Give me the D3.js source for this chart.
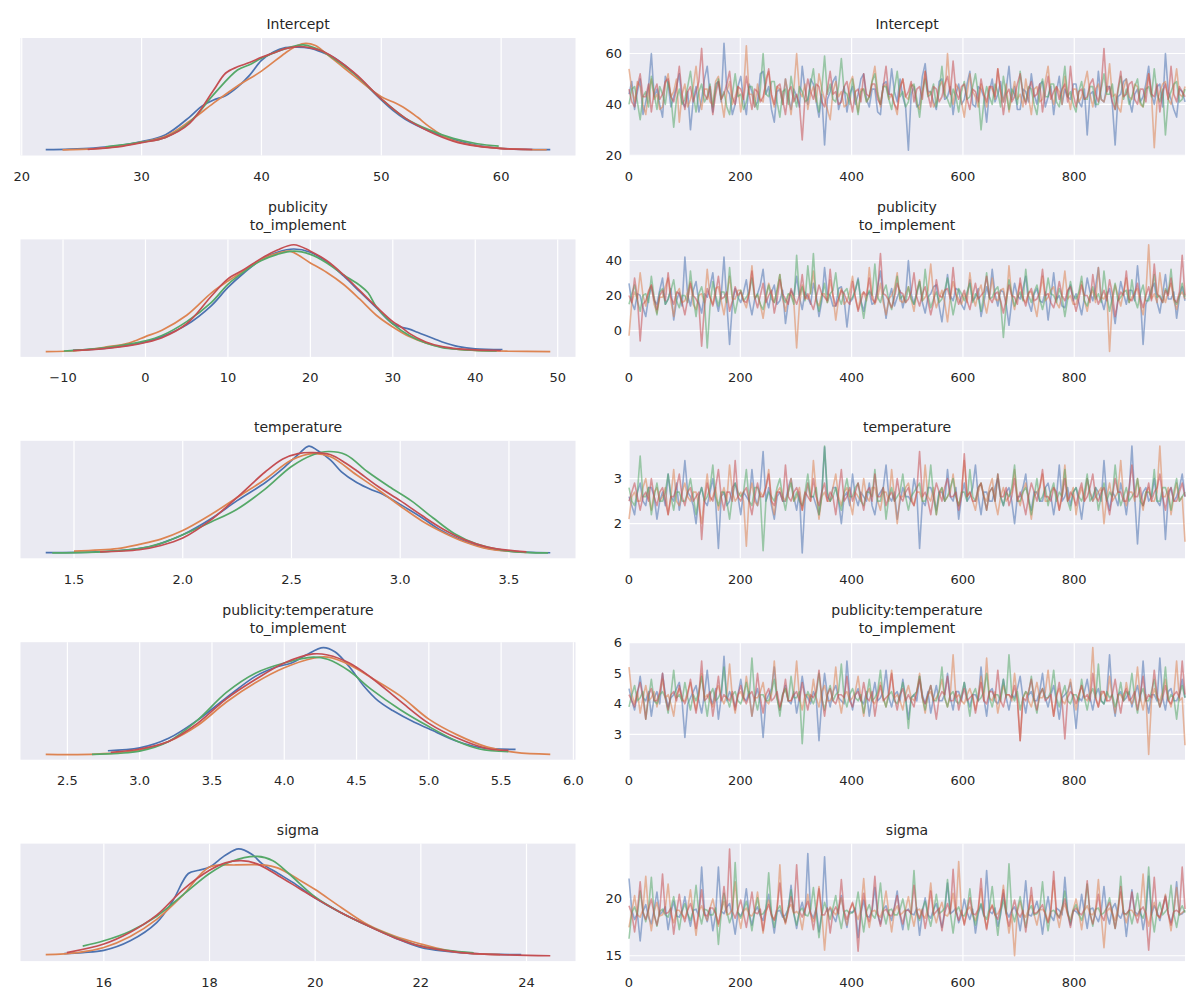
<!DOCTYPE html>
<html>
<head>
<meta charset="utf-8">
<script src="https://cdn.jsdelivr.net/npm/d3@7"></script>
<style>
body { margin: 0; background: #fff; }
text { font-family: "DejaVu Sans", sans-serif; fill: #262626; }
</style>
</head>
<body>
<svg id="chart" width="1200" height="997"></svg>
<script>
// chain colours (seaborn deep)
const chainColors = ["#4c72b0", "#dd8452", "#55a868", "#c44e52"];
const titles = ["Intercept", "publicity\nto_implement", "temperature", "publicity:temperature\nto_implement", "sigma"];
const kdeTickValues = [[20, 30, 40, 50, 60], [-10, 0, 10, 20, 30, 40, 50], [1.5, 2.0, 2.5, 3.0, 3.5], [2.5, 3.0, 3.5, 4.0, 4.5, 5.0, 5.5, 6.0], [16, 18, 20, 22, 24]];
const kdeTickFormat = ["d", "d", ".1f", ".1f", "d"];
const traceYTicks = [[20, 40, 60], [0, 20, 40], [2, 3], [3, 4, 5, 6], [15, 20]];
const drawTicks = [0, 200, 400, 600, 800];
const nDraws = 1000;

// density curves, [value, relative density] per chain (blue, orange, green, red)
const interceptKde = [
  [[22.0,0.005],[24,0.01],[26,0.02],[28,0.04],[30,0.08],[32,0.145],[34,0.31],[35,0.41],[36,0.47],[37,0.51],[38,0.59],[39,0.7],[40,0.84],[41,0.92],[42,0.96],[43,0.965],[44,0.955],[45,0.92],[46,0.87],[47,0.79],[48,0.69],[50,0.47],[51,0.37],[52,0.29],[54,0.18],[56,0.1],[58,0.045],[60,0.016],[62,0.007],[64.1,0.005]],
  [[23.4,0.003],[26,0.012],[28,0.035],[30,0.075],[32,0.13],[34,0.27],[36,0.44],[38,0.6],[40,0.74],[42,0.91],[43,0.98],[43.7,1.0],[44.5,0.98],[45,0.94],[46,0.85],[47,0.76],[48,0.67],[49,0.58],[50,0.5],[51,0.45],[52,0.39],[53,0.31],[54,0.22],[55,0.145],[56,0.09],[58,0.04],[60,0.016],[62,0.006],[63.8,0.004]],
  [[27,0.03],[28,0.045],[30,0.075],[32,0.12],[34,0.26],[36,0.52],[38,0.75],[39,0.8],[40,0.86],[42,0.95],[43.5,0.985],[45,0.93],[46,0.86],[47,0.78],[48,0.69],[50,0.48],[52,0.3],[54,0.19],[56,0.11],[58,0.06],[59.8,0.037]],
  [[25.5,0.008],[28,0.03],[30,0.07],[32,0.12],[34,0.25],[36,0.56],[37,0.72],[38,0.78],[39,0.82],[40,0.87],[41,0.91],[42,0.95],[43,0.97],[44,0.96],[45,0.93],[46,0.87],[47,0.79],[48,0.7],[50,0.48],[52,0.3],[54,0.175],[56,0.085],[58,0.037],[60,0.015],[62.6,0.006]]
];
const publicityKde = [
  [[-8.8,0.012],[-5,0.03],[-2,0.06],[0,0.09],[2,0.14],[5,0.25],[8,0.43],[10,0.6],[12,0.74],[14,0.86],[16,0.93],[18,0.96],[20,0.93],[22,0.84],[24,0.71],[26,0.56],[28,0.41],[30,0.26],[31,0.23],[32,0.21],[33,0.18],[34,0.15],[35,0.12],[36,0.09],[38,0.046],[40,0.025],[43.3,0.018]],
  [[-12.1,0.0],[-8,0.01],[-5,0.04],[-2,0.08],[0,0.14],[2,0.2],[5,0.34],[8,0.55],[10,0.66],[12,0.76],[14,0.86],[16,0.92],[17.5,0.94],[20,0.83],[22,0.74],[24,0.63],[26,0.49],[28,0.34],[30,0.23],[32,0.14],[34,0.08],[36,0.04],[38,0.02],[40,0.01],[44,0.003],[49.1,0.0]],
  [[-9.9,0.005],[-5,0.035],[-2,0.07],[0,0.1],[2,0.15],[5,0.28],[8,0.46],[10,0.63],[12,0.75],[14,0.85],[16,0.91],[18,0.94],[20,0.91],[22,0.83],[24,0.72],[26,0.62],[27,0.55],[28,0.42],[30,0.26],[32,0.15],[34,0.08],[36,0.037],[38,0.02],[40,0.012],[42.6,0.006]],
  [[-8.8,0.01],[-5,0.028],[-2,0.055],[0,0.085],[2,0.13],[5,0.26],[8,0.52],[10,0.68],[12,0.77],[14,0.87],[16,0.95],[18,1.0],[20,0.94],[22,0.85],[24,0.72],[26,0.57],[28,0.42],[30,0.28],[31,0.23],[32,0.17],[34,0.09],[36,0.046],[38,0.025],[40,0.015],[43.1,0.01]]
];
const temperatureKde = [
  [[1.37,0.003],[1.6,0.01],[1.75,0.03],[1.87,0.07],[1.94,0.12],[2.0,0.17],[2.13,0.32],[2.25,0.49],[2.38,0.66],[2.46,0.79],[2.53,0.92],[2.58,1.0],[2.62,0.96],[2.68,0.87],[2.73,0.76],[2.8,0.66],[2.87,0.59],[2.92,0.55],[3.0,0.455],[3.1,0.33],[3.18,0.22],[3.27,0.13],[3.38,0.055],[3.5,0.018],[3.69,0.002]],
  [[1.5,0.018],[1.7,0.04],[1.8,0.08],[1.9,0.13],[2.0,0.21],[2.13,0.36],[2.25,0.52],[2.38,0.69],[2.5,0.87],[2.6,0.93],[2.68,0.9],[2.8,0.73],[2.9,0.59],[3.0,0.44],[3.1,0.3],[3.2,0.19],[3.3,0.1],[3.4,0.04],[3.58,0.006]],
  [[1.4,0.0],[1.6,0.008],[1.8,0.04],[1.9,0.09],[2.0,0.17],[2.13,0.29],[2.25,0.41],[2.38,0.6],[2.5,0.81],[2.6,0.92],[2.67,0.95],[2.75,0.92],[2.85,0.76],[2.95,0.62],[3.05,0.49],[3.15,0.33],[3.25,0.18],[3.35,0.086],[3.5,0.018],[3.68,0.0]],
  [[1.62,0.01],[1.8,0.03],[1.9,0.07],[2.0,0.14],[2.13,0.31],[2.25,0.52],[2.38,0.76],[2.46,0.88],[2.53,0.93],[2.6,0.94],[2.68,0.92],[2.75,0.84],[2.8,0.77],[2.9,0.62],[3.0,0.49],[3.1,0.35],[3.2,0.22],[3.3,0.12],[3.4,0.055],[3.58,0.01]]
];
const pubTempKde = [
  [[2.78,0.034],[3.0,0.06],[3.2,0.15],[3.4,0.32],[3.6,0.53],[3.8,0.73],[3.95,0.82],[4.05,0.855],[4.15,0.93],[4.27,1.0],[4.35,0.96],[4.45,0.82],[4.55,0.64],[4.65,0.5],[4.75,0.41],[4.9,0.3],[5.0,0.24],[5.2,0.12],[5.35,0.065],[5.6,0.046]],
  [[2.35,0.0],[2.7,0.003],[3.0,0.04],[3.2,0.12],[3.4,0.27],[3.6,0.49],[3.8,0.67],[4.0,0.81],[4.2,0.9],[4.3,0.91],[4.45,0.84],[4.6,0.72],[4.8,0.55],[5.0,0.33],[5.2,0.18],[5.4,0.07],[5.6,0.018],[5.84,0.0]],
  [[2.67,0.0],[2.85,0.01],[3.0,0.03],[3.2,0.12],[3.4,0.32],[3.6,0.58],[3.8,0.76],[4.0,0.855],[4.2,0.91],[4.3,0.89],[4.45,0.78],[4.6,0.61],[4.8,0.42],[5.0,0.26],[5.2,0.12],[5.35,0.05],[5.55,0.025]],
  [[2.8,0.018],[3.0,0.05],[3.2,0.12],[3.4,0.29],[3.6,0.52],[3.8,0.7],[4.0,0.855],[4.2,0.94],[4.3,0.93],[4.45,0.855],[4.6,0.72],[4.8,0.5],[5.0,0.29],[5.2,0.15],[5.4,0.055],[5.55,0.037]]
];
const sigmaKde = [
  [[15.25,0.02],[15.6,0.03],[16,0.05],[16.5,0.14],[17,0.31],[17.3,0.51],[17.6,0.77],[17.8,0.8],[18,0.83],[18.3,0.94],[18.55,1.0],[18.8,0.95],[19,0.86],[19.3,0.77],[19.6,0.68],[20,0.54],[20.5,0.4],[21,0.28],[21.5,0.17],[22,0.077],[22.5,0.04],[23,0.02],[23.9,0.01]],
  [[14.9,0.01],[15.5,0.03],[16,0.077],[16.5,0.18],[17,0.34],[17.5,0.57],[18,0.83],[18.5,0.85],[19,0.85],[19.3,0.82],[19.7,0.71],[20,0.62],[20.5,0.45],[21,0.29],[21.5,0.185],[22,0.11],[22.5,0.05],[23,0.02],[23.5,0.01]],
  [[15.6,0.09],[16,0.14],[16.5,0.23],[17,0.37],[17.5,0.57],[18,0.77],[18.4,0.88],[18.9,0.93],[19.2,0.89],[19.5,0.77],[20,0.55],[20.5,0.4],[21,0.28],[21.5,0.175],[22,0.09],[22.5,0.05],[23,0.028]],
  [[15.3,0.03],[16,0.11],[16.5,0.22],[17,0.38],[17.5,0.62],[18,0.8],[18.3,0.87],[18.6,0.89],[18.9,0.86],[19.3,0.75],[19.7,0.63],[20,0.54],[20.5,0.4],[21,0.28],[21.5,0.17],[22,0.09],[22.5,0.046],[23,0.02],[24.45,0.0]]
];

// traces, every 5th draw per chain (blue, orange, green, red)
const interceptTrace = [
  [44,49,38,45,50,36,41,47,60,43,46,40,35,51,48,39,43,47,52,41, 39,45,30,42,47,37,42,50,55,44,37,48,49,41,64,46,44,36,40,47,
   51,42,36,48,45,39,41,52,53,44,47,38,33,45,46,40,50,43,38,46, 43,39,55,46,40,50,48,41,35,44,24,42,45,49,51,38,42,47,37,44,
   47,40,44,50,52,42,39,46,46,37,36,48,49,43,54,45,41,50,43,39, 22,44,47,39,40,51,56,45,45,41,38,49,50,42,43,47,36,44,48,40,
   42,48,53,40,39,47,46,43,33,45,50,41,44,49,41,46,55,42,47,38, 38,46,45,41,52,44,40,48,49,39,43,47,36,45,51,40,46,43,42,48,
   48,41,39,46,28,44,45,39,53,42,41,47,47,40,24,43,44,49,50,42, 37,44,46,41,43,48,55,44,40,47,48,39,60,45,42,38,35,46,45,41],
  [54,46,41,49,47,40,36,45,50,42,44,38,39,48,52,43,45,50,33,44, 48,39,42,47,55,44,38,46,46,41,40,49,51,42,35,45,49,40,43,47,
   37,45,63,44,44,39,48,42,41,50,53,43,39,47,46,40,50,44,36,46, 60,45,43,48,38,44,47,41,52,46,42,38,34,45,49,43,45,39,40,48,
   51,44,37,46,46,41,43,49,55,45,39,47,48,42,44,40,36,47,50,43, 42,48,47,40,38,45,53,44,45,39,41,47,49,43,60,45,40,48,46,41,
   35,44,52,45,43,39,48,44,39,47,46,42,54,45,41,48,37,43,49,42, 44,39,50,43,36,46,47,41,42,49,55,44,40,47,45,40,51,44,38,46,
   46,41,43,48,53,44,39,46,48,42,41,45,56,43,44,39,37,46,50,43, 42,48,47,40,39,46,52,44,23,41,45,48,49,42,40,46,54,44,43,47],
  [40,46,47,41,34,43,45,39,51,44,38,47,44,40,49,43,31,42,46,40, 42,47,53,44,37,45,48,41,43,48,39,46,50,42,45,39,36,44,52,43,
   44,38,41,47,47,42,38,46,60,44,43,49,49,41,35,45,46,40,51,44, 39,47,45,41,42,48,54,43,37,46,59,44,48,42,41,47,58,45,44,40,
   50,43,36,45,46,41,43,49,52,44,40,47,47,42,38,46,53,43,45,39, 41,47,48,42,35,45,50,43,44,48,39,45,55,44,42,39,46,43,37,45,
   49,42,43,47,52,44,30,41,47,43,40,48,45,39,51,44,38,46,44,40, 53,44,41,47,46,40,36,45,50,43,43,48,48,41,39,46,55,43,45,40,
   37,45,49,42,42,47,47,40,40,46,52,44,44,48,38,45,51,42,46,40, 43,47,50,41,39,46,47,43,54,44,41,46,28,42,45,48,49,41,42,46],
  [46,41,39,47,52,43,43,48,37,45,48,42,44,49,50,43,41,46,55,44, 38,45,47,41,45,49,62,44,42,47,36,44,49,42,44,48,53,43,40,47,
   46,42,51,44,38,46,45,41,43,48,54,44,40,47,48,42,36,45,47,41, 44,40,26,43,50,45,42,48,47,41,39,46,53,44,45,40,41,47,49,43,
   37,45,46,41,52,44,43,48,48,42,40,47,55,44,44,40,38,46,50,43, 45,49,41,46,47,42,53,44,39,47,46,41,43,48,51,44,57,45,42,47,
   48,42,38,46,45,41,50,44,41,47,47,43,54,45,36,44,46,41,43,48, 52,44,40,46,49,43,44,48,37,45,51,42,45,47,42,46,48,41,55,44,
   39,45,46,42,43,48,50,44,41,47,62,45,47,41,38,46,53,43,44,48, 49,42,40,46,46,41,52,44,43,48,37,45,48,42,55,44,41,47,45,43]
];
const publicityTrace = [
  [27,16,12,21,20,13,8,19,25,17,15,23,30,15,18,24,6,17,22,14, 42,20,14,23,28,16,10,21,19,25,33,18,11,20,42,16,-8,15,24,19,
   16,22,29,17,9,18,21,26,35,19,13,22,26,15,17,23,4,16,23,20, 31,19,12,22,19,15,27,20,8,17,36,21,20,14,14,24,25,18,2,16,
   18,23,30,17,11,20,22,15,16,25,34,19,7,18,24,14,19,23,13,20, 40,21,15,22,28,16,10,19,21,25,26,14,5,18,32,20,17,24,23,15,
   12,20,29,17,19,24,8,16,25,19,35,21,14,23,22,15,3,17,27,20, 18,24,31,16,11,21,24,17,16,22,6,19,33,18,20,14,13,22,26,17,
   21,16,9,19,30,22,17,25,36,18,12,20,24,15,4,18,28,21,15,23, 23,17,37,20,-8,15,19,24,27,16,10,21,32,18,18,22,7,19,25,17],
  [-3,16,22,18,33,20,14,23,26,15,10,19,19,25,30,17,8,21,24,16, 17,22,28,15,12,20,21,16,35,19,15,24,25,17,9,20,31,18,18,23,
   23,17,13,21,37,19,20,15,7,18,27,21,16,23,32,18,11,20,22,16, -10,15,26,19,18,22,34,17,14,21,21,16,29,20,6,18,24,15,17,22,
   31,19,12,20,22,17,36,21,15,19,27,16,9,18,20,24,33,17,16,21, 25,18,11,22,29,17,19,23,38,20,13,18,23,16,5,19,28,21,18,15,
   21,16,33,20,14,22,26,17,10,19,30,18,17,23,24,15,37,19,12,21, 27,18,16,22,22,15,8,20,31,17,19,23,25,16,13,21,34,18,20,15,
   15,21,28,17,11,20,23,16,36,19,18,22,-12,17,26,20,14,22,30,16, 19,22,24,15,9,21,49,18,21,16,33,20,16,23,27,17,12,20,22,18],
  [15,21,26,17,11,20,21,16,31,19,9,22,24,15,18,23,29,17,13,20, 20,16,34,19,8,21,25,17,-10,14,28,20,14,22,22,16,36,19,10,18,
   23,17,19,22,30,18,21,15,12,20,26,18,16,23,32,19,16,21,20,15, 43,20,25,17,37,21,44,18,11,19,27,16,21,23,33,19,15,22,24,17,
   19,23,29,17,7,18,23,20,38,19,16,22,26,17,12,21,31,18,20,16, 25,18,15,21,28,17,35,20,13,18,22,16,18,23,30,19,9,17,24,21,
   17,22,27,16,21,19,11,20,33,18,19,23,25,16,-4,15,29,21,14,19, 22,17,35,20,16,22,26,18,12,19,30,21,20,16,24,19,8,18,28,20,
   18,22,31,17,14,20,25,18,21,16,34,20,11,19,27,17,19,22,23,16, 29,18,13,21,26,17,17,22,32,19,20,16,24,21,35,18,15,20,27,19],
  [20,16,30,19,-6,15,17,22,26,18,12,20,23,17,33,19,15,22,21,16, 9,18,27,20,18,15,-9,14,24,19,14,21,31,18,19,22,11,17,25,20,
   22,17,16,21,34,19,13,20,27,16,20,23,10,18,29,21,18,15,24,19, 15,20,32,18,21,16,12,19,26,21,19,17,35,20,14,18,23,21,17,15,
   28,19,11,17,22,20,30,18,16,23,44,21,20,17,13,19,27,22,21,16, 18,22,33,19,14,21,25,17,9,16,29,20,19,23,24,18,36,20,15,19,
   23,17,12,20,27,18,20,22,31,19,16,21,22,17,10,18,26,20,19,15, 30,19,14,21,24,17,18,22,35,20,21,16,13,19,28,20,17,23,25,18,
   11,18,26,20,20,16,32,21,15,19,23,17,29,21,8,17,22,20,34,18, 17,21,27,18,13,20,25,17,38,21,19,16,23,20,30,18,16,22,43,20]
];
const temperatureTrace = [
  [2.6,2.4,2.2,2.7,2.9,2.5,2.4,2.8,2.8,2.6,2.1,2.5,2.7,2.4,3.1,2.6,2.5,2.9,2.3,2.7, 3.4,2.7,2.6,2.4,2.0,2.6,2.8,2.5,2.4,2.7,3.0,2.5,1.45,2.6,2.7,2.4,2.5,2.8,2.9,2.6,
   2.2,2.7,2.6,2.5,3.2,2.6,2.4,2.8,3.6,2.5,2.8,2.4,2.1,2.6,2.7,2.5,2.5,2.8,3.0,2.6, 2.3,2.7,1.35,2.5,2.9,2.6,2.6,2.4,2.2,2.7,3.7,2.6,2.5,2.8,2.8,2.5,2.0,2.6,2.7,2.4,
   3.1,2.6,2.4,2.7,2.6,2.5,2.9,2.4,2.2,2.6,2.7,2.8,3.3,2.6,2.5,2.7,2.1,2.5,2.8,2.6, 2.6,2.5,3.0,2.7,1.45,2.5,2.4,2.8,2.8,2.6,2.3,2.7,2.7,2.5,3.2,2.6,2.5,2.8,2.1,2.6,
   2.9,2.5,2.6,2.8,3.3,2.6,2.2,2.7,2.7,2.5,2.5,2.8,3.0,2.6,2.4,2.7,2.8,2.5,2.0,2.6, 2.6,2.8,3.1,2.5,2.3,2.7,2.7,2.5,2.5,2.8,2.9,2.6,2.2,2.6,3.3,2.5,2.6,2.8,2.4,2.7,
   2.8,2.5,2.1,2.6,3.0,2.7,2.5,2.8,2.7,2.5,3.4,2.6,2.3,2.7,2.6,2.4,2.9,2.6,2.2,2.7, 3.72,2.6,1.55,2.5,2.7,2.8,2.5,2.6,3.0,2.5,2.4,2.7,1.65,2.6,2.8,2.5,2.6,2.8,3.1,2.6],
  [2.1,2.6,2.7,2.5,2.5,2.8,3.0,2.6,2.3,2.7,2.8,2.5,2.6,2.8,2.2,2.6,3.2,2.5,2.4,2.7, 2.9,2.6,2.5,2.7,2.7,2.4,2.0,2.6,3.1,2.5,2.6,2.8,2.3,2.6,2.8,2.5,3.3,2.7,2.5,2.6,
   2.7,2.5,1.5,2.6,2.9,2.5,2.4,2.7,2.6,2.8,3.2,2.5,2.2,2.7,2.8,2.6,2.5,2.7,3.0,2.5, 2.6,2.8,2.3,2.6,2.9,2.5,3.4,2.7,2.1,2.6,2.7,2.5,2.5,2.8,3.1,2.6,2.4,2.7,2.8,2.5,
   2.2,2.7,2.6,2.5,3.0,2.6,2.5,2.8,2.8,2.5,2.3,2.7,2.7,2.5,3.2,2.6,2.0,2.6,2.6,2.8, 2.9,2.6,2.4,2.7,2.7,2.5,3.3,2.6,2.5,2.8,2.2,2.6,2.8,2.5,2.6,2.7,3.1,2.6,2.4,2.7,
   3.4,2.6,2.7,2.5,2.3,2.7,2.9,2.6,2.5,2.8,3.0,2.5,2.2,2.6,2.8,2.5,2.6,2.7,3.2,2.6, 2.4,2.7,2.9,2.5,2.1,2.6,2.7,2.8,3.1,2.5,2.5,2.7,2.8,2.6,2.3,2.7,3.3,2.5,2.6,2.8,
   2.2,2.6,2.8,2.5,3.0,2.7,2.5,2.6,2.7,2.8,2.0,2.6,2.9,2.5,2.6,2.7,3.4,2.6,2.4,2.7, 2.7,2.5,3.0,2.6,2.3,2.7,2.8,2.5,2.5,2.7,3.72,2.6,2.6,2.8,2.2,2.6,2.9,2.5,2.6,1.6],
  [2.8,2.5,2.4,2.7,3.5,2.6,2.6,2.8,2.2,2.6,2.9,2.5,2.5,2.7,3.1,2.6,2.3,2.7,2.7,2.5, 2.5,2.7,3.0,2.6,2.2,2.6,2.8,2.5,2.6,2.8,3.3,2.6,2.4,2.7,2.7,2.5,2.1,2.6,2.9,2.7,
   2.6,2.7,3.2,2.5,2.4,2.8,2.8,2.6,1.4,2.5,2.7,2.6,2.5,2.8,3.0,2.6,2.3,2.7,2.9,2.5, 2.7,2.5,2.4,2.7,3.1,2.6,2.6,2.8,2.2,2.6,3.72,2.7,2.5,2.6,2.8,2.5,2.3,2.7,3.0,2.6,
   2.6,2.8,2.9,2.5,2.4,2.7,2.7,2.6,3.2,2.5,2.5,2.8,2.1,2.6,2.8,2.5,2.6,2.7,3.1,2.6, 2.3,2.6,2.7,2.8,2.9,2.5,2.5,2.7,3.3,2.6,2.2,2.7,2.8,2.5,2.6,2.8,3.0,2.6,2.4,2.7,
   2.7,2.5,3.2,2.6,2.5,2.8,2.9,2.6,2.3,2.7,2.8,2.5,3.1,2.6,2.4,2.7,2.6,2.8,3.3,2.5, 2.5,2.7,2.8,2.6,2.2,2.6,3.0,2.5,2.6,2.8,2.4,2.7,2.9,2.5,2.7,2.6,3.2,2.5,2.3,2.7,
   2.8,2.6,2.5,2.7,3.1,2.5,2.6,2.8,2.3,2.6,2.9,2.5,2.7,2.6,3.3,2.7,2.4,2.6,2.8,2.5, 2.6,2.7,3.0,2.5,2.4,2.7,2.7,2.6,3.2,2.5,2.5,2.8,2.8,2.6,2.3,2.7,3.0,2.5,2.6,2.7],
  [2.5,2.7,2.9,2.6,2.3,2.6,2.7,2.5,3.0,2.6,2.4,2.7,2.8,2.5,2.2,2.6,2.6,2.8,3.1,2.6, 2.4,2.7,2.8,2.5,2.6,2.7,1.65,2.5,2.9,2.6,2.5,2.8,3.2,2.6,2.3,2.7,2.7,2.5,3.4,2.6,
   2.5,2.7,2.8,2.5,2.2,2.6,2.9,2.6,2.6,2.8,3.1,2.5,2.4,2.7,2.7,2.5,3.3,2.6,2.5,2.7, 2.8,2.6,2.3,2.7,2.6,2.5,3.0,2.6,2.4,2.7,2.9,2.5,2.7,2.6,2.2,2.7,3.2,2.5,2.6,2.8,
   2.5,2.7,2.9,2.6,2.3,2.7,2.8,2.5,3.1,2.6,2.6,2.8,2.4,2.6,2.7,2.5,3.0,2.6,2.5,2.7, 2.8,2.5,2.4,2.7,3.6,2.6,2.7,2.5,2.2,2.6,2.9,2.7,2.5,2.8,3.0,2.6,2.6,2.7,2.3,2.6,
   3.55,2.6,2.7,2.5,2.5,2.8,2.9,2.6,2.3,2.7,2.8,2.5,3.1,2.6,2.6,2.8,2.4,2.6,3.0,2.5, 2.7,2.5,2.2,2.6,2.9,2.7,2.5,2.8,3.2,2.6,2.6,2.5,2.8,2.7,2.3,2.6,3.0,2.5,2.7,2.6,
   2.4,2.7,2.9,2.5,2.6,2.8,3.1,2.6,2.5,2.7,2.8,2.5,2.2,2.6,3.0,2.7,2.7,2.5,2.5,2.8, 3.3,2.6,2.6,2.8,2.4,2.6,2.9,2.5,2.7,2.8,3.1,2.6,2.3,2.7,2.8,2.5,2.5,2.7,2.9,2.6]
];
const pubTempTrace = [
  [4.5,4.1,3.8,4.3,4.9,4.2,4.1,4.4,3.6,4.2,4.4,4.0,5.0,4.3,3.9,4.2,4.3,4.5,4.7,4.1, 2.9,4.0,4.2,4.4,4.6,4.1,3.7,4.3,5.1,4.2,4.0,4.5,3.5,4.2,5.55,4.1,4.4,4.2,3.9,4.3,
   4.8,4.2,4.1,4.4,3.6,4.2,4.5,4.0,2.9,4.1,4.3,4.5,5.2,4.2,3.8,4.3,4.6,4.1,4.0,4.4, 3.7,4.2,4.9,4.3,4.2,4.0,4.4,4.2,2.8,4.1,5.0,4.3,3.9,4.4,4.6,4.2,4.1,4.0,5.4,4.3,
   3.8,4.3,4.5,4.1,4.0,4.4,3.6,4.2,4.7,4.1,4.2,4.4,5.1,4.2,3.9,4.3,4.4,4.1,4.8,4.2, 3.5,4.2,4.3,4.1,4.9,4.3,4.0,4.4,3.7,4.2,4.6,4.1,4.1,4.3,5.0,4.2,3.8,4.4,4.4,4.1,
   4.7,4.2,3.9,4.3,4.3,4.1,5.2,4.2,3.6,4.4,4.5,4.1,4.0,4.3,4.8,4.2,3.8,4.3,4.2,4.5, 4.9,4.2,3.7,4.3,4.4,4.1,4.1,4.4,5.0,4.2,3.9,4.3,4.6,4.1,3.5,4.2,4.3,4.4,4.7,4.1,
   3.2,4.2,4.1,4.4,4.8,4.2,3.8,4.3,4.5,4.1,4.0,4.3,5.6,4.2,3.6,4.3,4.4,4.1,4.2,4.4, 3.9,4.3,4.6,4.1,5.4,4.2,3.7,4.3,4.3,4.1,5.5,4.2,3.8,4.4,4.5,4.1,4.1,4.3,4.8,4.2],
  [5.2,4.3,4.0,4.4,3.7,4.2,4.6,4.1,4.2,4.4,3.9,4.3,4.8,4.2,4.3,4.0,3.6,4.3,4.5,4.1, 4.1,4.4,4.7,4.2,3.8,4.3,5.0,4.2,4.3,4.1,3.9,4.4,4.6,4.2,4.0,4.3,5.3,4.2,3.7,4.3,
   4.4,4.1,4.9,4.3,3.6,4.2,4.2,4.4,4.7,4.1,4.0,4.3,5.4,4.2,3.8,4.3,4.5,4.1,4.1,4.4, 5.4,4.2,3.8,4.3,4.3,4.1,4.8,4.2,3.9,4.4,4.6,4.1,4.1,4.3,5.2,4.2,3.7,4.3,4.4,4.1,
   4.2,4.4,4.9,4.2,3.6,4.3,4.5,4.1,4.0,4.3,4.7,4.2,3.9,4.4,5.1,4.2,4.3,4.1,3.8,4.3, 4.6,4.2,4.1,4.4,5.0,4.2,3.7,4.3,4.4,4.1,4.2,4.4,4.8,4.2,3.9,4.3,5.6,4.2,4.3,4.1,
   4.0,4.3,4.5,4.2,3.8,4.3,4.9,4.1,5.5,4.2,4.1,4.4,3.7,4.2,4.6,4.3,4.3,4.1,5.0,4.2, 2.8,4.2,4.4,4.1,3.9,4.3,4.7,4.2,4.2,4.4,5.1,4.2,3.6,4.3,4.5,4.1,4.0,4.3,4.8,4.2,
   3.8,4.3,4.6,4.2,4.1,4.4,5.84,4.2,3.9,4.3,4.4,4.1,4.9,4.2,3.7,4.3,4.3,4.1,4.7,4.2, 4.0,4.3,5.2,4.2,3.8,4.3,2.35,4.1,4.5,4.2,4.1,4.4,4.8,4.2,3.9,4.3,5.4,4.1,4.2,2.65],
  [3.9,4.3,4.6,4.1,4.2,4.4,3.5,4.2,4.8,4.1,4.0,4.3,4.4,4.2,3.7,4.3,5.1,4.2,4.3,4.1, 4.7,4.2,3.8,4.3,4.1,4.4,4.9,4.2,3.6,4.3,4.5,4.1,4.2,4.4,5.2,4.2,3.9,4.3,4.4,4.1,
   4.0,4.3,4.7,4.2,5.5,4.2,3.8,4.3,4.3,4.1,4.1,4.4,4.8,4.2,3.6,4.3,4.5,4.1,4.9,4.2, 4.2,4.4,2.7,4.1,4.4,4.2,4.0,4.3,5.0,4.2,3.8,4.3,4.6,4.1,4.3,4.4,5.3,4.2,3.9,4.3,
   4.5,4.2,4.1,4.3,3.7,4.2,4.8,4.1,4.2,4.4,5.1,4.2,3.9,4.3,4.4,4.1,4.0,4.3,4.7,4.2, 3.2,4.2,4.3,4.4,4.9,4.2,3.8,4.3,4.6,4.1,4.1,4.4,5.2,4.2,3.9,4.3,4.4,4.1,4.0,4.3,
   4.7,4.2,3.6,4.3,4.5,4.1,4.2,4.4,5.0,4.2,3.9,4.3,4.3,4.1,4.8,4.2,5.6,4.3,4.1,4.4, 3.8,4.2,4.4,4.3,4.9,4.1,3.7,4.3,4.5,4.2,4.2,4.4,5.1,4.2,3.9,4.3,4.6,4.1,4.0,4.3,
   4.3,4.1,4.8,4.2,3.8,4.3,4.5,4.2,5.3,4.1,4.0,4.4,4.2,4.3,3.9,4.2,4.7,4.1,4.4,4.3, 5.0,4.2,3.7,4.3,4.5,4.1,4.1,4.4,4.8,4.2,3.9,4.3,5.2,4.1,4.3,4.2,3.5,4.3,4.6,4.2],
  [4.3,4.1,3.9,4.4,4.7,4.2,3.5,4.3,4.5,4.1,4.1,4.4,5.0,4.2,3.8,4.3,4.4,4.1,4.6,4.2, 4.0,4.3,4.8,4.2,3.7,4.3,5.4,4.1,4.2,4.4,3.6,4.2,4.9,4.1,4.3,4.2,4.1,4.4,3.8,4.3,
   4.6,4.2,4.0,4.3,4.4,4.1,5.0,4.2,3.7,4.3,4.5,4.1,4.2,4.4,3.9,4.2,4.8,4.1,4.1,4.3, 4.4,4.1,4.7,4.2,3.8,4.3,4.2,4.4,5.1,4.2,3.6,4.3,4.5,4.1,4.0,4.3,4.3,4.2,4.9,4.1,
   3.9,4.3,4.4,4.1,4.7,4.2,4.1,4.4,3.6,4.2,4.6,4.1,4.2,4.3,5.0,4.2,3.8,4.3,4.5,4.1, 4.3,4.1,3.9,4.4,4.8,4.2,4.0,4.3,4.6,4.1,3.5,4.2,4.4,4.3,4.9,4.1,4.1,4.4,3.8,4.2,
   4.5,4.1,4.2,4.3,3.7,4.2,4.7,4.1,4.0,4.4,4.4,4.2,5.1,4.1,3.9,4.3,4.3,4.2,4.6,4.1, 2.8,4.2,4.1,4.4,4.8,4.2,3.8,4.3,4.5,4.1,4.2,4.3,3.6,4.2,4.7,4.1,2.85,4.2,4.4,4.3,
   4.0,4.3,4.6,4.2,4.3,4.1,5.0,4.2,3.9,4.4,4.4,4.1,4.1,4.3,4.8,4.2,3.7,4.3,4.5,4.1, 4.2,4.4,3.8,4.3,4.9,4.1,4.3,4.2,5.1,4.3,3.9,4.2,4.6,4.1,4.0,4.3,4.4,4.2,5.4,4.3]
];
const sigmaTrace = [
  [21.8,19.0,18.2,18.7,16.3,18.9,19.5,18.4,17.8,19.1,20.6,18.6,18.9,19.3,17.3,18.8,19.8,18.5,18.4,19.0, 20.2,18.7,17.6,19.0,19.1,18.5,22.8,18.9,18.0,19.2,17.2,18.6,22.8,18.9,18.7,19.3,19.6,18.4,16.9,18.8,
   18.5,19.1,20.9,18.7,17.7,18.9,19.3,18.5,18.1,19.2,20.4,18.6,17.0,18.9,19.0,18.4,18.6,19.1,21.2,18.7, 17.4,18.9,19.7,18.6,24.0,18.8,18.3,19.2,17.1,18.7,23.7,18.9,19.2,18.5,18.0,19.1,20.3,18.6,17.5,18.9,
   18.8,19.2,16.6,18.7,19.9,18.5,18.4,19.0,21.0,18.6,17.8,19.1,19.4,18.7,18.1,19.3,20.7,18.5,17.3,18.9, 19.1,18.7,18.6,19.2,16.8,18.8,20.1,18.6,18.3,19.1,19.6,18.5,17.5,18.9,21.4,18.7,18.9,19.2,17.9,18.6,
   20.0,18.8,18.2,19.1,17.0,18.7,19.5,18.5,22.5,18.9,18.7,19.2,17.6,18.6,20.5,18.9,18.4,19.0,19.3,18.6, 17.2,18.9,21.6,18.6,18.5,19.1,19.8,18.7,16.9,18.8,20.2,18.5,18.1,19.2,19.0,18.6,21.9,18.9,17.7,19.0,
   18.9,18.6,20.4,18.8,17.4,19.1,19.2,18.5,18.0,18.9,21.1,18.7,17.8,19.2,19.6,18.6,18.3,19.0,16.7,18.8, 20.8,18.9,18.6,19.1,17.3,18.7,22.0,18.6,19.4,18.9,18.1,19.2,20.3,18.7,17.9,18.9,21.5,18.6,18.7,19.0],
  [17.5,18.9,20.3,18.6,18.4,19.1,22.0,18.7,17.2,18.9,19.7,18.5,18.6,19.2,21.3,18.7,17.9,19.0,19.0,18.6, 18.3,19.1,20.8,18.7,16.8,18.9,19.4,18.6,18.1,19.2,20.0,18.8,17.6,19.0,19.8,18.6,18.7,19.1,21.5,18.8,
   17.4,18.9,19.2,18.6,18.5,19.0,20.6,18.7,17.0,18.8,19.9,18.5,18.2,19.1,23.0,18.8,17.8,19.2,19.5,18.7, 18.9,18.6,17.3,19.0,20.4,18.7,18.0,19.1,21.1,18.8,15.5,18.6,19.3,18.9,18.6,19.2,20.1,18.7,17.7,19.0,
   19.6,18.8,18.2,19.1,21.8,18.7,17.5,18.9,19.0,18.6,18.4,19.2,20.7,18.8,17.1,18.9,19.4,18.6,18.8,19.1, 20.2,18.7,17.6,19.0,19.1,18.6,18.3,19.2,21.4,18.8,17.9,19.0,19.7,18.6,18.5,19.1,20.5,18.7,23.3,18.9,
   17.8,19.0,19.3,18.6,18.1,19.1,20.9,18.7,17.4,18.9,19.5,18.6,18.7,19.2,21.2,18.8,17.0,18.6,15.0,18.9, 19.8,18.7,18.4,19.1,20.3,18.6,17.7,19.0,19.1,18.8,18.0,19.2,21.6,18.7,17.5,18.9,19.6,18.6,18.2,19.1,
   20.0,18.8,17.3,19.0,19.4,18.7,18.6,19.1,21.7,18.6,15.7,18.9,19.2,18.7,18.1,19.2,20.6,18.8,17.9,19.0, 19.0,18.6,18.5,19.1,22.2,18.8,17.6,18.9,19.7,18.6,18.3,19.2,20.4,18.7,17.2,18.9,21.0,18.6,18.8,19.0],
  [16.5,18.8,19.3,18.6,20.7,18.9,18.0,19.1,21.9,18.7,17.6,18.9,19.1,18.6,18.4,19.2,20.2,18.8,17.3,18.9, 19.6,18.7,18.1,19.0,21.2,18.8,17.8,19.1,19.0,18.6,18.6,19.2,16.0,18.7,20.5,18.9,17.9,18.6,23.2,18.8,
   18.3,19.0,19.8,18.7,17.2,18.9,20.1,18.6,18.7,19.1,22.3,18.8,17.5,19.0,19.4,18.6,18.0,19.2,20.8,18.7, 17.7,18.9,19.2,18.6,18.5,19.1,21.0,18.8,16.6,18.7,19.7,18.9,18.2,19.2,20.3,18.6,17.4,18.9,19.0,18.7,
   18.8,19.1,20.6,18.7,17.1,18.9,19.5,18.6,18.3,19.2,21.4,18.8,17.8,19.0,19.1,18.6,18.6,19.1,20.0,18.8, 17.3,18.9,22.5,18.7,18.1,19.1,19.8,18.6,17.6,18.9,20.4,18.7,18.9,19.2,21.7,18.8,17.0,18.9,19.3,18.6,
   18.5,19.1,20.9,18.7,17.7,18.9,19.6,18.6,18.2,19.2,21.1,18.8,16.8,18.9,19.9,18.7,23.1,18.9,18.0,19.1, 20.2,18.8,17.5,19.0,19.4,18.6,18.7,19.1,21.5,18.8,17.2,18.9,19.0,18.7,18.4,19.2,20.7,18.8,17.9,19.0,
   19.5,18.7,18.1,19.0,21.3,18.8,17.6,19.1,19.2,18.6,18.8,19.2,20.1,18.7,17.4,18.9,22.0,18.8,18.6,19.0, 17.8,18.9,20.5,18.7,18.3,19.1,22.8,18.8,17.1,18.9,19.7,18.6,18.9,19.2,21.2,18.7,17.5,18.9,19.4,18.8],
  [19.4,18.7,17.1,18.9,21.5,18.8,18.2,19.1,20.0,18.6,17.7,18.9,22.2,18.7,18.8,19.2,16.9,18.8,20.4,18.7, 18.0,19.0,19.6,18.7,17.4,18.9,20.8,18.6,18.5,19.2,19.2,18.7,17.8,19.0,21.1,18.8,24.4,18.9,18.3,19.1,
   19.9,18.7,17.5,19.0,20.6,18.8,18.7,19.1,17.2,18.9,19.5,18.6,18.1,19.2,21.4,18.7,17.9,18.9,20.2,18.8, 23.0,18.9,18.4,19.1,19.8,18.7,17.3,18.9,20.9,18.6,18.6,19.2,17.0,18.8,19.3,18.7,21.7,18.9,18.2,19.0,
   19.7,18.8,15.4,18.9,20.5,18.7,18.0,19.1,22.0,18.8,17.6,18.9,19.1,18.6,18.5,19.2,20.3,18.7,17.8,19.0, 19.0,18.7,21.2,18.9,18.3,19.1,17.4,18.8,20.7,18.6,18.9,19.2,17.2,18.8,19.6,18.7,22.6,18.9,18.1,19.0,
   17.7,18.9,20.1,18.7,18.6,19.1,21.8,18.8,17.3,18.9,19.4,18.6,18.2,19.2,20.8,18.7,17.6,18.9,19.9,18.8, 18.4,19.0,17.1,18.9,21.0,18.7,18.8,19.1,19.5,18.6,17.9,18.9,22.4,18.8,18.3,19.2,20.0,18.7,17.5,18.9,
   19.2,18.8,18.6,19.1,21.6,18.7,17.8,18.9,20.4,18.6,18.1,19.2,19.7,18.8,17.4,18.9,21.1,18.7,18.7,19.0, 20.6,18.8,17.9,19.0,19.3,18.7,15.5,18.9,21.9,18.6,18.4,19.2,20.2,18.7,17.7,18.9,19.0,18.8,22.8,19.1]
];

const rows = [
  { kde: interceptKde, trace: interceptTrace },
  { kde: publicityKde, trace: publicityTrace },
  { kde: temperatureKde, trace: temperatureTrace },
  { kde: pubTempKde, trace: pubTempTrace },
  { kde: sigmaKde, trace: sigmaTrace }
];

// layout
const leftX0 = 20.5, leftX1 = 575.5, rightX0 = 629, rightX1 = 1185;
const top0 = 38, pitch = 201.4, panelH = 117.5;
const bg = "#eaeaf2";

function pad(ext) {
  const r = ext[1] - ext[0];
  return [ext[0] - 0.05 * r, ext[1] + 0.05 * r];
}

const svg = d3.select("#chart");

function drawTitle(cx, yTop, title) {
  const lines = title.split("\n");
  lines.forEach((ln, i) => {
    svg.append("text")
      .attr("x", cx)
      .attr("y", yTop - 9 - (lines.length - 1 - i) * 18.5)
      .attr("text-anchor", "middle")
      .style("font-size", "14px")
      .text(ln);
  });
}

rows.forEach((row, r) => {
  const y0 = top0 + r * pitch, y1 = y0 + panelH;

  // ---- density panel
  const allPts = row.kde.flat();
  const kx = d3.scaleLinear().domain(pad(d3.extent(allPts, d => d[0]))).range([leftX0, leftX1]);
  const ky = d3.scaleLinear().domain(pad([0, d3.max(allPts, d => d[1])])).range([y1, y0]);
  const gL = svg.append("g");
  gL.append("rect").attr("x", leftX0).attr("y", y0)
    .attr("width", leftX1 - leftX0).attr("height", panelH).attr("fill", bg);
  const kTicks = kdeTickValues[r].filter(t => t >= kx.domain()[0] && t <= kx.domain()[1]);
  const fmt = d3.format(kdeTickFormat[r]);
  gL.selectAll(".grid").data(kTicks).join("line")
    .attr("x1", d => kx(d)).attr("x2", d => kx(d))
    .attr("y1", y0).attr("y2", y1)
    .attr("stroke", "#fff").attr("stroke-width", 1.2);
  gL.selectAll(".tl").data(kTicks).join("text")
    .attr("x", d => kx(d)).attr("y", y1 + 25.5)
    .attr("text-anchor", "middle")
    .style("font-size", "13px")
    .text(d => fmt(d));
  const line = d3.line().x(d => kx(d[0])).y(d => ky(d[1])).curve(d3.curveCatmullRom.alpha(0.5));
  row.kde.forEach((chain, c) => {
    gL.append("path").attr("d", line(chain))
      .attr("fill", "none").attr("stroke", chainColors[c])
      .attr("stroke-width", 1.7);
  });
  drawTitle((leftX0 + leftX1) / 2, y0, titles[r]);

  // ---- trace panel
  const allVals = row.trace.flat();
  const tx = d3.scaleLinear().domain([0, nDraws - 1]).range([rightX0, rightX1]);
  const ty = d3.scaleLinear().domain(pad(d3.extent(allVals))).range([y1, y0]);
  const gR = svg.append("g");
  gR.append("rect").attr("x", rightX0).attr("y", y0)
    .attr("width", rightX1 - rightX0).attr("height", panelH).attr("fill", bg);
  const yT = traceYTicks[r].filter(t => t >= ty.domain()[0] && t <= ty.domain()[1]);
  gR.selectAll(".gx").data(drawTicks).join("line")
    .attr("x1", d => tx(d)).attr("x2", d => tx(d))
    .attr("y1", y0).attr("y2", y1)
    .attr("stroke", "#fff").attr("stroke-width", 1.2);
  gR.selectAll(".gy").data(yT).join("line")
    .attr("x1", rightX0).attr("x2", rightX1)
    .attr("y1", d => ty(d)).attr("y2", d => ty(d))
    .attr("stroke", "#fff").attr("stroke-width", 1.2);
  gR.selectAll(".xl").data(drawTicks).join("text")
    .attr("x", d => tx(d)).attr("y", y1 + 25.5)
    .attr("text-anchor", "middle")
    .style("font-size", "13px")
    .text(d => d);
  gR.selectAll(".yl").data(yT).join("text")
    .attr("x", rightX0 - 7).attr("y", d => ty(d))
    .attr("dy", "0.35em")
    .attr("text-anchor", "end")
    .style("font-size", "13px")
    .text(d => d);
  row.trace.forEach((chain, c) => {
    const step = (nDraws - 1) / (chain.length - 1);
    const tline = d3.line().x((d, i) => tx(i * step)).y(d => ty(d));
    gR.append("path").attr("d", tline(chain))
      .attr("fill", "none").attr("stroke", chainColors[c])
      .attr("stroke-width", 1.6).attr("stroke-opacity", 0.55)
      .attr("stroke-linejoin", "round");
  });
  drawTitle((rightX0 + rightX1) / 2, y0, titles[r]);
});
</script>
</body>
</html>
